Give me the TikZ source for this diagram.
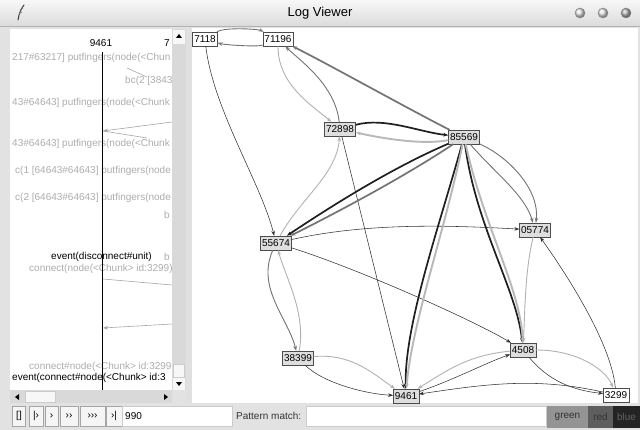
\documentclass[tikz,border=0pt]{standalone}
\usepackage{fontspec}
\setmainfont{Liberation Sans}
\setsansfont{Liberation Sans}
\usetikzlibrary{arrows.meta}

\definecolor{winbg}{HTML}{E2E2E2}
\definecolor{scrollbg}{HTML}{D9D9D9}
\definecolor{boxfill}{HTML}{DEDEDE}

\begin{document}
\begin{tikzpicture}[
  x=1pt, y=-1pt,
  font=\sffamily\fontsize{10}{12}\selectfont,
  >={Stealth[length=5pt,width=3.6pt]},
  vtx/.style={draw=black!70, fill=boxfill, inner xsep=1.6pt, inner ysep=0pt, minimum height=14pt},
  vtxw/.style={vtx, fill=white},
  fine/.style={->, draw=black!80, line width=0.55pt},
  mid/.style={->, draw=black!55, line width=0.9pt},
  pale/.style={->, draw=black!30, line width=0.9pt},
  heavy/.style={->, draw=black!88, line width=1.7pt},
  heavygray/.style={->, draw=black!55, line width=1.7pt},
  paleheavy/.style={->, draw=black!28, line width=1.9pt},
  logline/.style={anchor=base west, inner sep=0pt, text=black!32},
  logevent/.style={anchor=base west, inner sep=0pt, text=black},
  tick/.style={draw=black!35, line width=0.6pt},
  btn/.style={draw=black!35, fill=black!4, minimum height=20pt, inner sep=0pt},
  field/.style={draw=black!20, fill=white, minimum height=20pt, inner sep=0pt},
  swatch/.style={minimum height=22pt, inner sep=0pt}
]
\useasboundingbox (0,0) rectangle (640,430);

% window frame and title bar
\fill[winbg] (0,0) rectangle (640,430);
\shade[top color=black!3, bottom color=black!14] (0,0) rectangle (640,26);
\draw[black!30] (0,26) -- (640,26);
\node (title) at (320,13) {\fontsize{13}{15}\selectfont Log Viewer};
\draw[black!75, line width=1pt, line cap=round] (18,20) .. controls (19,13) and (21,9) .. (24,5);
\draw[black!55, line width=0.6pt] (19,14) -- (22,12) (20,10) -- (23,8);
\foreach \cx/\shadecol in {580/black!10, 603/black!10, 626/black!30} {
  \shade[ball color=\shadecol] (\cx,13) circle (5);
  \draw[black!45, line width=0.5pt] (\cx,13) circle (5);
}

% left log panel
\fill[white] (10,29) rectangle (172,390);
\fill[scrollbg] (172,29) rectangle (186,390);
\fill[black!3] (173,30) rectangle (185,44);
\fill[black] (179,34) -- (176,38) -- (182,38) -- cycle;
\filldraw[fill=black!3, draw=black!20] (173,364) rectangle (184,377);
\fill[black!3] (173,378) rectangle (185,390);
\fill[black] (179,386) -- (176,382) -- (182,382) -- cycle;
\fill[black!12] (186,28) rectangle (192,403);
\fill[scrollbg] (10,390) rectangle (172,403);
\fill[black] (15,397) -- (19,394) -- (19,400) -- cycle;
\filldraw[fill=black!3, draw=black!20] (25,391) rectangle (55,402);
\fill[black] (168,397) -- (164,394) -- (164,400) -- cycle;

\node (hdr9461) at (101,43) {9461};
\node (hdr7) at (167,43) {7};

\node[logline] (l1) at (12,61) {217\#63217] putfingers(node(<Chun};
\node[logline] (l2) at (125,84) {bc(2 [3843};
\node[logline] (l3) at (12,106) {43\#64643] putfingers(node(<Chunk};
\node[logline] (l4) at (12,147) {43\#64643] putfingers(node(<Chunk};
\node[logline] (l5) at (15,174) {c(1 [64643\#64643] putfingers(node};
\node[logline] (l6) at (15,201) {c(2 [64643\#64643] putfingers(node};
\node[logline] (l7) at (164,219) {b};
\node[logevent] (ev1) at (51,260) {event(disconnect\#unit)};
\node[logline] (l8) at (164,261) {b};
\node[logline] (l9) at (29,272) {connect(node(<Chunk> id:3299)};
\node[logline] (l10) at (29,370) {connect\#node(<Chunk> id:3299};
\node[logevent] (ev2) at (12,381) {event(connect\#node(<Chunk> id:3};

\coordinate (t1a) at (127,68);  \coordinate (t1b) at (147,77);
\coordinate (t2a) at (172,122); \coordinate (t2b) at (103,131);
\coordinate (t2c) at (147,138);
\coordinate (t3a) at (103,279); \coordinate (t3b) at (172,285);
\coordinate (t4a) at (172,324); \coordinate (t4b) at (103,328);
\draw[tick] (t1a) -- (t1b);
\draw[tick, ->] (t2a) -- (t2b);
\draw[tick] (t2b) -- (t2c);
\draw[tick] (t3a) -- (t3b);
\draw[tick, ->] (t4a) -- (t4b);
\draw[black, line width=0.7pt] (102,52) -- (102,390);

% graph panel
\fill[white] (192,28) rectangle (638,403);
\begin{scope}
\clip (192,28) rectangle (638,403);
\node[vtxw] (n7118) at (205,39) {7118};
\node[vtxw] (n71196) at (278,39) {71196};
\node[vtx] (n72898) at (340,129) {72898};
\node[vtx] (n85569) at (464,137) {85569};
\node[vtx] (n05774) at (535,230) {05774};
\node[vtx] (n55674) at (276,243) {55674};
\node[vtx] (n38399) at (298,358) {38399};
\node[vtx] (n9461) at (406,396) {9461};
\node[vtx] (n4508) at (523,350) {4508};
\node[vtxw] (n3299) at (616,395) {3299};

\draw[mid] (n7118) .. controls +(20,-12) and +(-20,-10) .. (n71196);
\draw[mid] (n71196) .. controls +(-20,8) and +(20,6) .. (n7118);
\draw[fine] (n7118) .. controls +(8,70) and +(-15,-60) .. (n55674);
\draw[pale] (n71196) .. controls +(0,45) and +(-30,-25) .. (n72898);
\draw[mid] (n72898) .. controls +(-5,-45) and +(20,20) .. (n71196);
\draw[heavygray] (n85569) .. controls +(-50,-25) and +(50,25) .. (n71196);
\draw[heavy] (n72898) .. controls +(45,-12) and +(-45,-5) .. (n85569);
\draw[paleheavy] (n85569) .. controls +(-40,8) and +(45,10) .. (n72898);
\draw[fine] (n72898) -- (n9461);
\draw[pale] (n55674) .. controls +(25,-45) and +(-3,45) .. (n72898);
\draw[heavy] (n85569) .. controls +(-70,30) and +(60,-40) .. (n55674);
\draw[heavygray] (n85569) .. controls +(-60,40) and +(60,-30) .. (n55674);
\draw[fine] (n55674) .. controls +(90,-20) and +(-90,-5) .. (n05774);
\draw[fine] (n55674) .. controls +(80,25) and +(-50,-30) .. (n4508);
\draw[mid] (n55674) .. controls +(-20,45) and +(-10,-40) .. (n38399);
\draw[pale] (n38399) .. controls +(8,-45) and +(10,35) .. (n55674);
\draw[pale] (n38399) .. controls +(55,-5) and +(-30,-20) .. (n9461);
\draw[fine] (n38399) .. controls +(25,25) and +(-40,-2) .. (n9461);
\draw[heavy] (n85569) .. controls +(-25,90) and +(-2,-70) .. (n9461);
\draw[paleheavy] (n85569) .. controls +(-18,90) and +(5,-70) .. (n9461);
\draw[heavy] (n85569) .. controls +(12,90) and +(-6,-60) .. (n4508);
\draw[paleheavy] (n85569) .. controls +(20,90) and +(-2,-60) .. (n4508);
\draw[mid] (n85569) .. controls +(30,35) and +(-10,-35) .. (n05774);
\draw[mid] (n85569) .. controls +(45,20) and +(5,-40) .. (n05774);
\draw[pale] (n05774) .. controls +(-10,40) and +(2,-40) .. (n4508);
\draw[fine] (n3299) .. controls +(-5,-55) and +(25,35) .. (n05774);
\draw[fine] (n9461) .. controls +(45,-15) and +(-35,12) .. (n4508);
\draw[pale] (n4508) .. controls +(-55,5) and +(40,-25) .. (n9461);
\draw[pale] (n4508) .. controls +(55,0) and +(-10,-25) .. (n3299);
\draw[fine] (n4508) .. controls +(25,30) and +(-45,-5) .. (n3299);
\draw[fine] (n3299) .. controls +(-80,-18) and +(80,-12) .. (n9461);
\end{scope}

% bottom toolbar
\node[btn, minimum width=13pt] (bstop) at (19,416) {[]};
\node[btn, minimum width=14pt] (bstep) at (36,416) {|›};
\node[btn, minimum width=13pt] (bfwd) at (51.5,416) {›};
\node[btn, minimum width=18pt] (bfwd2) at (69,416) {››};
\node[btn, minimum width=25pt] (bfwd3) at (92.5,416) {›››};
\node[btn, minimum width=16pt] (bend) at (114,416) {›|};
\node[field, minimum width=110pt] (count) at (177,416) {};
\node[anchor=west, inner sep=0pt] (countval) at (125,416) {990};
\node[anchor=west, inner sep=0pt, text=black!80] (patlab) at (236,416) {Pattern match:};
\node[field, minimum width=240pt] (pattern) at (426,416) {};
\node[swatch, fill=black!42, text=black!80, minimum width=41pt] (green) at (567.5,417) {green};
\node[swatch, fill=black!63, text=black!80, minimum width=25pt] (red) at (600.5,417) {red};
\node[swatch, fill=black!86, text=black!62, minimum width=27pt] (blue) at (626.5,417) {blue};
\end{tikzpicture}
\end{document}
